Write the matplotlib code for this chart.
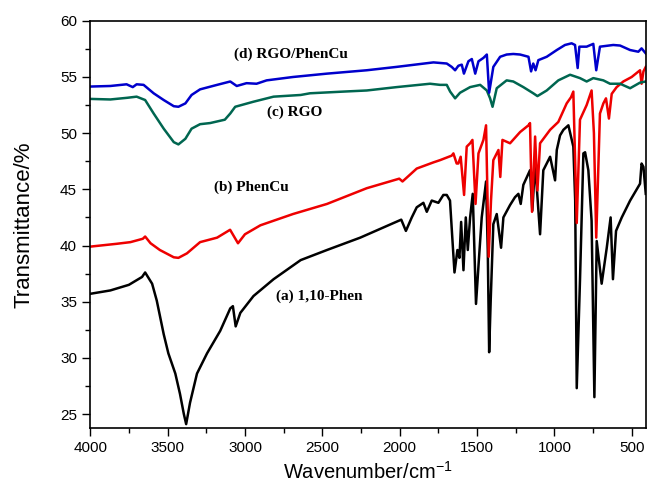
import matplotlib.pyplot as plt
from matplotlib.ticker import MultipleLocator

plt.rcParams["mathtext.fontset"] = "custom"
plt.rcParams["mathtext.rm"] = "Liberation Sans"
plt.rcParams["mathtext.it"] = "Liberation Sans"

# (a) 1,10-Phen
wn_a = [4000, 3870, 3750, 3665, 3645, 3600, 3570, 3525, 3495, 3450, 3420, 3395, 3380, 3355,
        3310, 3245, 3160, 3095, 3078, 3060, 3030, 2945, 2815, 2640, 2470, 2255, 2040, 1990,
        1960, 1922, 1890, 1847, 1825, 1793, 1750, 1718, 1696, 1675, 1657, 1646, 1627, 1614,
        1603, 1588, 1573, 1560, 1545, 1528, 1507, 1489, 1470, 1442, 1431, 1422, 1412, 1395,
        1373, 1345, 1330, 1287, 1255, 1233, 1218, 1201, 1158, 1143, 1125, 1093, 1072, 1028,
        996, 985, 964, 942, 910, 878, 866, 856, 835, 813, 802, 781, 760, 742, 727, 695, 662,
        637, 622, 602, 565, 511, 447, 437, 425, 410]
t_a = [35.7, 36.0, 36.5, 37.2, 37.6, 36.6, 35.1, 32.1, 30.4, 28.6, 26.8, 25.0, 24.1, 26.0,
       28.6, 30.4, 32.4, 34.4, 34.6, 32.8, 34.0, 35.5, 37.0, 38.7, 39.6, 40.7, 42.0, 42.3,
       41.3, 42.5, 43.4, 43.8, 43.0, 44.0, 43.8, 44.5, 44.5, 44.0, 40.0, 37.6, 39.6, 38.9,
       42.1, 37.8, 42.5, 39.6, 42.5, 44.6, 34.8, 38.6, 42.5, 45.7, 39.6, 30.5, 35.1, 41.9,
       42.8, 39.8, 42.5, 43.6, 44.3, 44.6, 43.7, 45.4, 46.7, 43.1, 47.3, 41.0, 46.7, 47.9,
       45.8, 48.5, 49.8, 50.3, 50.7, 48.8, 44.0, 27.3, 36.9, 48.2, 48.3, 46.7, 42.2, 26.5,
       40.4, 36.6, 39.8, 42.5, 37.0, 41.3, 42.5, 44.0, 45.5, 47.3, 47.0, 44.6]

# (b) PhenCu
wn_b = [4000, 3830, 3740, 3660, 3645, 3610, 3550, 3460, 3430, 3375, 3290, 3180, 3096, 3045,
        3000, 2900, 2690, 2470, 2213, 2003, 1982, 1890, 1782, 1739, 1664, 1653, 1632, 1621,
        1606, 1584, 1567, 1545, 1530, 1510, 1491, 1459, 1442, 1425, 1410, 1395, 1362, 1350,
        1336, 1287, 1222, 1168, 1158, 1145, 1125, 1110, 1093, 1028, 975, 921, 893, 878, 856,
        835, 792, 760, 745, 730, 706, 684, 667, 648, 630, 598, 555, 501, 447, 437, 425, 410]
t_b = [39.9, 40.15, 40.3, 40.6, 40.8, 40.2, 39.6, 38.95, 38.9, 39.3, 40.3, 40.7, 41.4, 40.2,
       41.0, 41.8, 42.8, 43.7, 45.1, 45.95, 45.7, 46.85, 47.4, 47.6, 48.0, 48.2, 47.3, 47.3,
       47.9, 44.5, 48.8, 49.1, 49.4, 43.7, 48.2, 49.4, 50.7, 39.0, 44.0, 47.6, 48.5, 46.1,
       49.4, 49.1, 50.1, 50.7, 50.9, 43.0, 49.7, 44.9, 49.1, 50.3, 51.0, 52.65, 53.2, 53.7,
       42.0, 51.2, 52.5, 53.8, 50.0, 40.7, 51.75, 52.65, 53.1, 51.3, 53.5, 54.1, 54.6, 55.0,
       55.6, 54.4, 55.5, 55.9]

# (c) RGO
wn_c = [4000, 3870, 3760, 3700, 3645, 3590, 3525, 3460, 3430, 3385, 3345, 3290, 3225, 3130,
        3095, 3063, 2945, 2815, 2640, 2580, 2365, 2213, 2020, 1804, 1739, 1696, 1674, 1642,
        1610, 1545, 1480, 1437, 1416, 1400, 1373, 1309, 1266, 1201, 1137, 1110, 1050, 975,
        899, 835, 792, 749, 684, 641, 576, 511, 447, 410]
t_c = [53.05, 53.0, 53.15, 53.25, 52.95, 51.75, 50.4, 49.2, 49.0, 49.5, 50.4, 50.8, 50.9,
       51.2, 51.75, 52.35, 52.8, 53.25, 53.4, 53.55, 53.7, 53.8, 54.1, 54.4, 54.3, 54.3, 53.7,
       53.1, 53.6, 54.1, 54.3, 53.8, 53.1, 52.35, 54.0, 54.7, 54.6, 54.1, 53.55, 53.3, 53.8,
       54.7, 55.2, 54.9, 54.6, 54.9, 54.7, 54.4, 54.4, 54.0, 54.5, 54.6]

# (d) RGO/PhenCu
wn_d = [4000, 3870, 3765, 3725, 3700, 3655, 3590, 3525, 3460, 3430, 3385, 3345, 3290, 3180,
        3095, 3053, 2990, 2925, 2860, 2690, 2470, 2213, 2020, 1782, 1696, 1664, 1642, 1621,
        1599, 1585, 1556, 1534, 1512, 1491, 1459, 1437, 1422, 1395, 1351, 1309, 1266, 1222,
        1168, 1151, 1137, 1122, 1104, 1050, 985, 932, 889, 867, 850, 839, 792, 749, 730, 706,
        620, 576, 511, 458, 437, 410]
t_d = [54.15, 54.2, 54.35, 54.1, 54.35, 54.3, 53.55, 52.95, 52.4, 52.35, 52.65, 53.4, 53.9,
       54.3, 54.6, 54.2, 54.45, 54.4, 54.7, 55.0, 55.3, 55.6, 55.9, 56.3, 56.2, 55.9, 55.6,
       56.0, 56.1, 55.3, 56.4, 56.6, 55.3, 56.4, 56.7, 57.0, 53.6, 55.9, 56.8, 57.0, 57.05,
       57.0, 56.8, 55.5, 56.2, 55.6, 56.5, 56.8, 57.4, 57.85, 58.0, 57.85, 55.8, 57.7, 57.7,
       57.95, 55.6, 57.7, 57.85, 57.8, 57.4, 57.25, 57.55, 57.1]

labels = ["(a) 1,10-Phen", "(b) PhenCu", "(c) RGO", "(d) RGO/PhenCu"]
label_pos = [(2520, 35.5), (2960, 45.2), (2680, 51.9), (2700, 57.0)]

fig = plt.figure(figsize=(6.49, 4.96), dpi=100)
ax = fig.add_axes([0.139, 0.137, 0.856, 0.821])

ax.plot(wn_a, t_a, color="black", lw=1.8)
ax.plot(wn_b, t_b, color="#ee0000", lw=1.8)
ax.plot(wn_c, t_c, color="#006650", lw=1.8)
ax.plot(wn_d, t_d, color="#0000cc", lw=1.8)

for txt, (x, y) in zip(labels, label_pos):
    ax.text(x, y, txt, ha="center", va="center", fontsize=11, fontweight="bold",
            family="Liberation Serif")

ax.set_xlim(4000, 410)
ax.set_ylim(23.75, 60)
ax.xaxis.set_major_locator(MultipleLocator(500))
ax.xaxis.set_minor_locator(MultipleLocator(250))
ax.yaxis.set_major_locator(MultipleLocator(5))
ax.yaxis.set_minor_locator(MultipleLocator(2.5))
ax.tick_params(which="major", direction="out", length=6, width=1, labelsize=11)
ax.tick_params(which="minor", direction="out", length=3.5, width=1)
for s in ax.spines.values():
    s.set_linewidth(1.2)
for t in ax.get_xticklabels() + ax.get_yticklabels():
    t.set_family("Liberation Sans")

ax.set_xlabel("Wavenumber/cm$^{-1}$", fontsize=14.5, family="Liberation Sans")
ax.set_ylabel("Transmittance/%", fontsize=16, family="Liberation Sans")
ax.xaxis.set_label_coords(0.5, -0.08)
ax.yaxis.set_label_coords(-0.1, 0.5)

fig.savefig("out.png", dpi=100)
